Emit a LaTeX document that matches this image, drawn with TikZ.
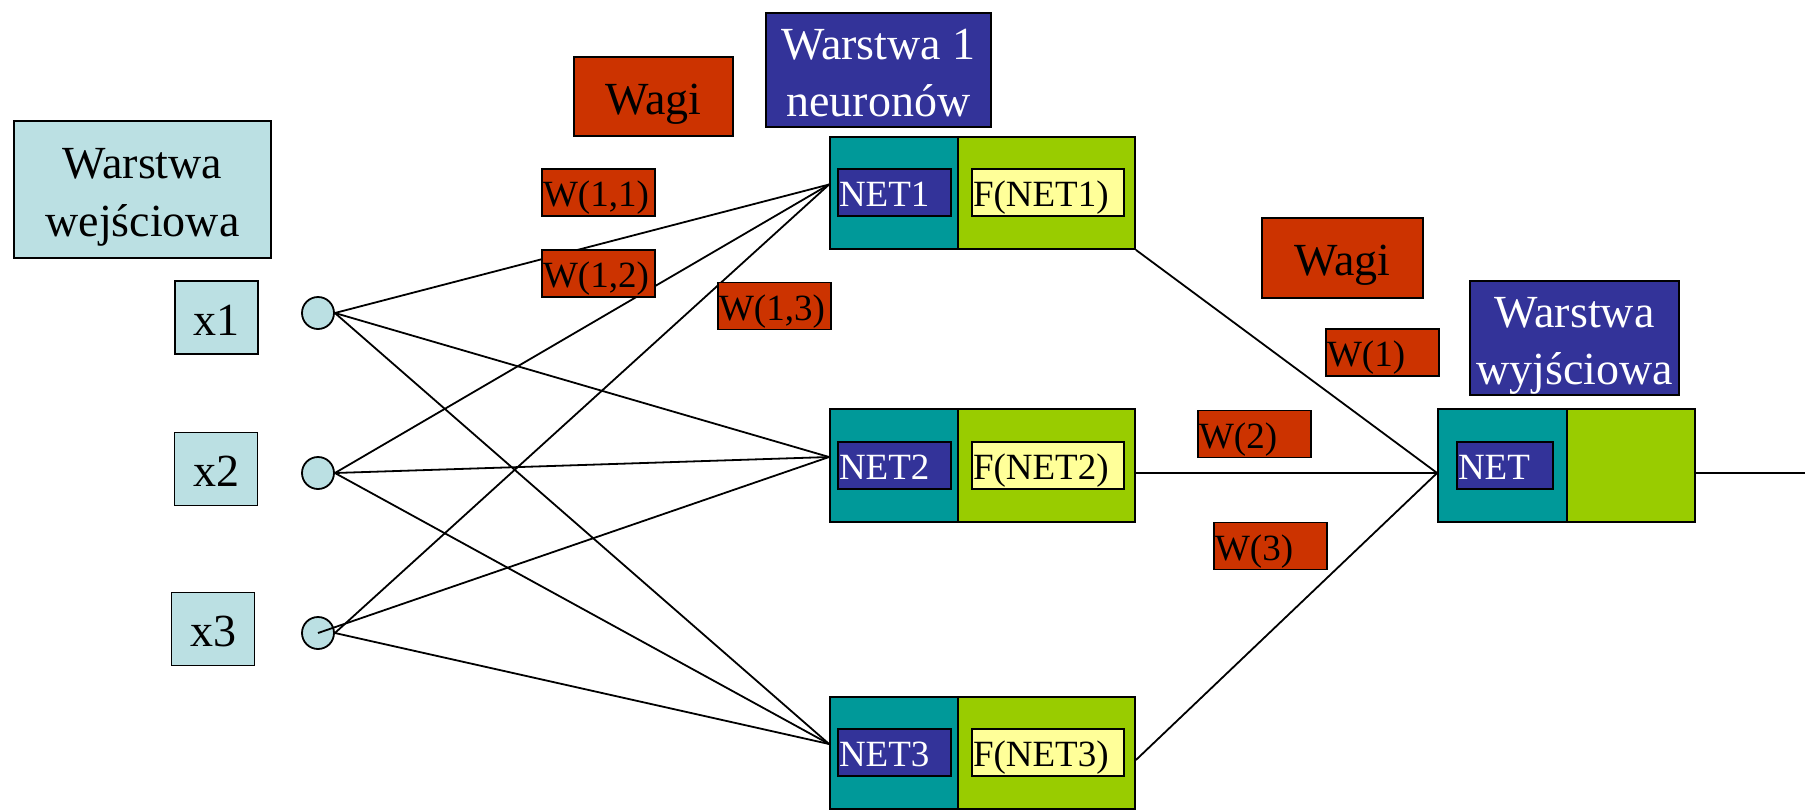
\documentclass[tikz,border=0pt]{standalone}
\usepackage{fontspec}
\setmainfont{Liberation Serif}

\definecolor{inputcol}{HTML}{BBE0E3}
\definecolor{wred}{HTML}{CC3300}
\definecolor{navy}{HTML}{333399}
\definecolor{tealcol}{HTML}{009999}
\definecolor{limecol}{HTML}{99CC00}
\definecolor{paleyellow}{HTML}{FFFF99}

% fixed line height so every label sits the same way in its box
\newcommand{\boxstrut}{\rule[-0.22em]{0pt}{1.22em}}

\tikzset{
  bigfont/.style={font=\fontsize{46}{56}\selectfont},
  smallfont/.style={font=\fontsize{37}{45}\selectfont},
  frame/.style={draw=black, line width=1.8pt, rectangle, inner sep=0pt},
  titlebox/.style={frame, bigfont, align=center},
  inbox/.style={titlebox, fill=inputcol},
  wagibox/.style={titlebox, fill=wred},
  layerbox/.style={titlebox, fill=navy, text=white},
  inlabel/.style={frame, smallfont, inner xsep=1pt, align=left,
                  text width=#1, minimum height=47pt},
  wlabel/.style={inlabel=111pt, fill=wred},
  netlabel/.style={inlabel=#1, fill=navy, text=white},
  flabel/.style={inlabel=150pt, fill=paleyellow},
  sumpart/.style={frame, fill=tealcol, minimum width=128pt},
  actpart/.style={frame, fill=limecol, minimum width=177pt},
  inputdot/.style={draw=black, line width=1.8pt, circle, fill=inputcol,
                   minimum size=32pt, inner sep=0pt},
  conn/.style={draw=black, line width=1.8pt},
}

\begin{document}
\begin{tikzpicture}[x=1pt, y=-1pt]
\useasboundingbox (0,0) rectangle (1805,809);
\fill[white] (0,0) rectangle (1805,809);

% input layer
\node[inbox, minimum width=257pt, minimum height=137pt] (intitle) at (142.5,189.5)
  {\boxstrut Warstwa\\\boxstrut wejściowa};
\node[inbox, minimum width=83pt, minimum height=73pt] (x1) at (216.5,317.5) {\boxstrut x1};
\node[inbox, minimum width=83pt, minimum height=73pt] (x2) at (216,469) {\boxstrut x2};
\node[inbox, minimum width=83pt, minimum height=73pt] (x3) at (213,629) {\boxstrut x3};
\node[inputdot] (c1) at (318,313) {};
\node[inputdot] (c2) at (318,473) {};
\node[inputdot] (c3) at (318,633) {};

% hidden layer: summation part and activation part of each neuron
\node[sumpart, minimum height=112pt] (n1a) at (894,193) {};
\node[actpart, minimum height=112pt] (n1b) at (1046.5,193) {};
\node[sumpart, minimum height=113pt] (n2a) at (894,465.5) {};
\node[actpart, minimum height=113pt] (n2b) at (1046.5,465.5) {};
\node[sumpart, minimum height=112pt] (n3a) at (894,753) {};
\node[actpart, minimum height=112pt] (n3b) at (1046.5,753) {};

\node[netlabel=111pt] (net1) at (894.5,192.5) {\boxstrut NET1};
\node[flabel] (f1) at (1048,192.5) {\boxstrut F(NET1)};
\node[netlabel=111pt] (net2) at (894.5,465.5) {\boxstrut NET2};
\node[flabel] (f2) at (1048,465.5) {\boxstrut F(NET2)};
\node[netlabel=111pt] (net3) at (894.5,752.5) {\boxstrut NET3};
\node[flabel] (f3) at (1048,752.5) {\boxstrut F(NET3)};

% output neuron
\node[sumpart, minimum width=129pt, minimum height=113pt] (oa) at (1502.5,465.5) {};
\node[actpart, minimum width=128pt, minimum height=113pt] (ob) at (1631,465.5) {};
\node[netlabel=94pt] (onet) at (1505,465.5) {\boxstrut NET};

% connection points
\coordinate (j1) at ([yshift=8.5pt]n1a.west);
\coordinate (j2) at ([yshift=8.5pt]n2a.west);
\coordinate (j3) at ([yshift=9pt]n3a.west);
\coordinate (jo) at ([yshift=-7.5pt]oa.west);
\coordinate (outend) at (1805,473);

% input -> hidden connections
\draw[conn] (c1.east) -- (j1);
\draw[conn] (c1.east) -- (j2);
\draw[conn] (c1.east) -- (j3);
\draw[conn] (c2.east) -- (j1);
\draw[conn] (c2.east) -- (j2);
\draw[conn] (c2.east) -- (j3);
\draw[conn] (c3.east) -- (j1);
\draw[conn] (c3.center) -- (j2);
\draw[conn] (c3.east) -- (j3);

% hidden -> output connections
\draw[conn] (n1b.south east) -- (jo);
\draw[conn] ([yshift=-7.5pt]n2b.east) -- (jo);
\draw[conn] ([yshift=-7pt]n3b.east) -- (jo);
\draw[conn] ([yshift=-7.5pt]ob.east) -- (outend);

% weights
\node[wlabel] (w11) at (598.5,192.5) {\boxstrut W(1,1)};
\node[wlabel] (w12) at (598.5,273.5) {\boxstrut W(1,2)};
\node[wlabel] (w13) at (774.5,306) {\boxstrut W(1,3)};
\node[wlabel] (w1) at (1382.5,352.5) {\boxstrut W(1)};
\node[wlabel] (w2) at (1254.5,434) {\boxstrut W(2)};
\node[wlabel] (w3) at (1270.5,546) {\boxstrut W(3)};

% titles
\node[wagibox, minimum width=159pt, minimum height=79pt] (wagi1) at (653.5,96.5) {\boxstrut Wagi};
\node[layerbox, minimum width=225pt, minimum height=112pt] (layer1) at (878.5,70)
  {\boxstrut Warstwa 1\\\boxstrut neuronów};
\node[wagibox, minimum width=161pt, minimum height=80pt] (wagi2) at (1342.5,258) {\boxstrut Wagi};
\node[layerbox, minimum width=209pt, minimum height=112pt] (outtitle) at (1574.5,338)
  {\boxstrut Warstwa\\\boxstrut wyjściowa};
\end{tikzpicture}
\end{document}
